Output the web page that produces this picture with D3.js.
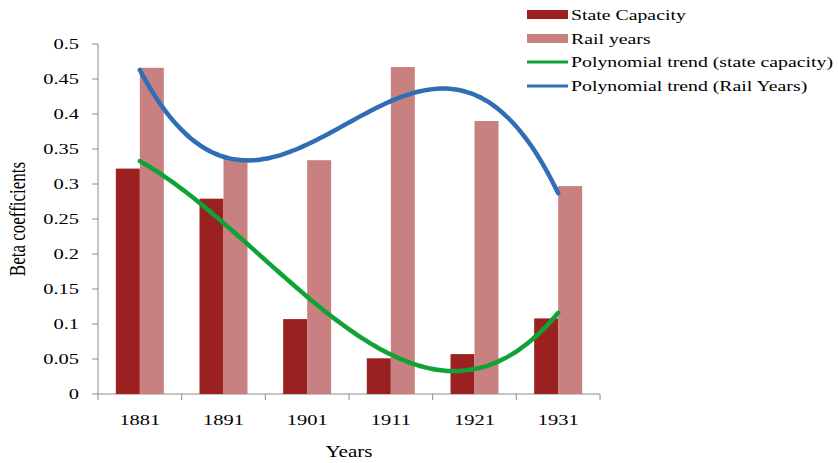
<!DOCTYPE html>
<html>
<head>
<meta charset="utf-8">
<script src="https://cdn.jsdelivr.net/npm/d3@7"></script>
<style>
  body { margin: 0; background: #fff; }
  text { font-family: "Liberation Serif", "Times New Roman", serif; fill: #000; }
</style>
</head>
<body>
<div id="chart"></div>
<script>
// data
var years = ['1881', '1891', '1901', '1911', '1921', '1931'];
var stateCapacity = [0.322, 0.279, 0.107, 0.051, 0.057, 0.108];
var railYears = [0.466, 0.337, 0.334, 0.467, 0.390, 0.297];
var yTicks = [0, 0.05, 0.1, 0.15, 0.2, 0.25, 0.3, 0.35, 0.4, 0.45, 0.5];
var yTickLabels = ['0', '0.05', '0.1', '0.15', '0.2', '0.25', '0.3', '0.35', '0.4', '0.45', '0.5'];
var legendLabels = ['State Capacity', 'Rail years', 'Polynomial trend (state capacity)', 'Polynomial trend (Rail Years)'];

var colors = { state: '#9b2121', rail: '#c98080', trendState: '#0fa335', trendRail: '#2f6db5' };

var W = 838, H = 463;
var plotLeft = 98, plotRight = 600, plotTop = 44, plotBottom = 394;
var stretch = 1.32; // the reference text is drawn wide

var svg = d3.select('#chart').append('svg').attr('width', W).attr('height', H);

var x = d3.scaleBand().domain(years).range([plotLeft, plotRight]).paddingInner(0).paddingOuter(0);
var y = d3.scaleLinear().domain([0, 0.5]).range([plotBottom, plotTop]);
var barW = 24;

// wide text helper
function label(parent, tx, ty, str, size, anchor) {
  return parent.append('text')
    .attr('transform', 'translate(' + tx + ',' + ty + ') scale(' + stretch + ',1)')
    .attr('text-anchor', anchor || 'start')
    .style('font-size', size + 'px')
    .text(str);
}

// cubic least-squares trend (what excel draws as the polynomial trendline)
function cubicFit(vals) {
  var A = [], b = [];
  for (var i = 0; i < 4; i++) { A.push([0, 0, 0, 0]); b.push(0); }
  vals.forEach(function(v, k) {
    var t = k + 1;
    for (var i = 0; i < 4; i++) {
      for (var j = 0; j < 4; j++) A[i][j] += Math.pow(t, i + j);
      b[i] += v * Math.pow(t, i);
    }
  });
  for (var i = 0; i < 4; i++) {
    for (var r = i + 1; r < 4; r++) {
      var f = A[r][i] / A[i][i];
      for (var c = i; c < 4; c++) A[r][c] -= f * A[i][c];
      b[r] -= f * b[i];
    }
  }
  var coef = [0, 0, 0, 0];
  for (var i = 3; i >= 0; i--) {
    var s = b[i];
    for (var c = i + 1; c < 4; c++) s -= A[i][c] * coef[c];
    coef[i] = s / A[i][i];
  }
  return function(t) { return coef[0] + coef[1] * t + coef[2] * t * t + coef[3] * t * t * t; };
}

// axes
var axisColor = '#8c8c8c';
svg.append('line').attr('x1', plotLeft).attr('x2', plotLeft).attr('y1', plotTop).attr('y2', plotBottom)
  .attr('stroke', axisColor).attr('stroke-width', 1);
svg.append('line').attr('x1', plotLeft).attr('x2', plotRight).attr('y1', plotBottom).attr('y2', plotBottom)
  .attr('stroke', axisColor).attr('stroke-width', 1);

yTicks.forEach(function(t, i) {
  svg.append('line').attr('x1', plotLeft - 6).attr('x2', plotLeft).attr('y1', y(t)).attr('y2', y(t))
    .attr('stroke', axisColor);
  label(svg, plotLeft - 19, y(t) + 5, yTickLabels[i], 15.5, 'end');
});

var bounds = years.map(function(d) { return x(d); }).concat([plotRight]);
bounds.forEach(function(b) {
  svg.append('line').attr('x1', b).attr('x2', b).attr('y1', plotBottom).attr('y2', plotBottom + 6)
    .attr('stroke', axisColor);
});
years.forEach(function(d) {
  label(svg, x(d) + x.bandwidth() / 2, plotBottom + 31, d, 15.5, 'middle');
});

label(svg, 349, 457, 'Years', 16, 'middle');
svg.append('text').attr('transform', 'translate(25,219) rotate(-90) scale(1,' + stretch + ')')
  .attr('text-anchor', 'middle').style('font-size', '17px').text('Beta coefficients');

// bars
svg.selectAll('rect.state').data(stateCapacity).enter().append('rect')
  .attr('class', 'state')
  .attr('x', function(d, i) { return x(years[i]) + x.bandwidth() / 2 - barW; })
  .attr('width', barW)
  .attr('y', function(d) { return y(d); })
  .attr('height', function(d) { return y(0) - y(d); })
  .attr('fill', colors.state);

svg.selectAll('rect.rail').data(railYears).enter().append('rect')
  .attr('class', 'rail')
  .attr('x', function(d, i) { return x(years[i]) + x.bandwidth() / 2; })
  .attr('width', barW)
  .attr('y', function(d) { return y(d); })
  .attr('height', function(d) { return y(0) - y(d); })
  .attr('fill', colors.rail);

// trend lines
var tx = d3.scaleLinear().domain([1, years.length])
  .range([x(years[0]) + x.bandwidth() / 2, x(years[years.length - 1]) + x.bandwidth() / 2]);
var steps = d3.range(1, years.length + 0.001, 0.05);
var line = d3.line().x(function(d) { return tx(d[0]); }).y(function(d) { return y(d[1]); })
  .curve(d3.curveMonotoneX);

[[stateCapacity, colors.trendState], [railYears, colors.trendRail]].forEach(function(s) {
  var f = cubicFit(s[0]);
  svg.append('path').datum(steps.map(function(t) { return [t, f(t)]; }))
    .attr('d', line).attr('fill', 'none').attr('stroke', s[1])
    .attr('stroke-width', 4.5).attr('stroke-linecap', 'round');
});

// legend
var lg = svg.append('g').attr('transform', 'translate(527,0)');
var legendRows = [15, 39, 62, 86];
legendLabels.forEach(function(lbl, i) {
  var yy = legendRows[i];
  if (i < 2) {
    lg.append('rect').attr('x', 0).attr('y', yy - 5).attr('width', 41).attr('height', 9)
      .attr('fill', i === 0 ? colors.state : colors.rail);
  } else {
    lg.append('line').attr('x1', 0).attr('x2', 41).attr('y1', yy).attr('y2', yy)
      .attr('stroke', i === 2 ? colors.trendState : colors.trendRail).attr('stroke-width', 3);
  }
  label(lg, 44, yy + 5, lbl, 15);
});
</script>
</body>
</html>
